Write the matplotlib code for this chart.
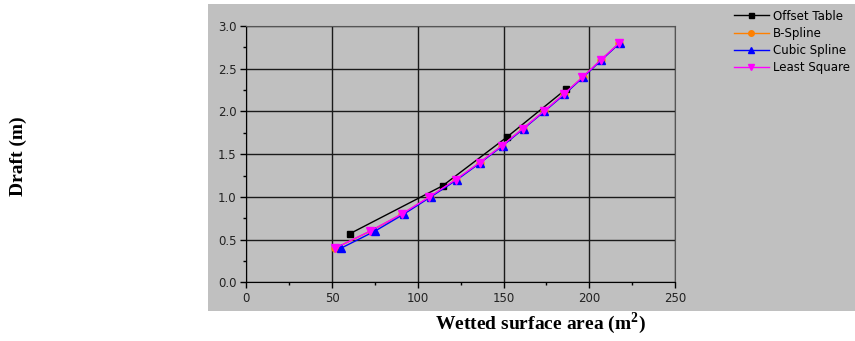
import matplotlib
matplotlib.use('Agg')
import matplotlib.pyplot as plt
from matplotlib.patches import Rectangle
from matplotlib.ticker import MultipleLocator, FormatStrFormatter

plt.rcParams['mathtext.fontset'] = 'custom'
plt.rcParams['mathtext.rm'] = 'Liberation Serif:bold'
plt.rcParams['mathtext.bf'] = 'Liberation Serif:bold'

# Wetted surface area (m^2) against draft (m) for each hull representation
offset_area = [60.5, 114.5, 152.0, 186.4]
offset_draft = [0.57, 1.13, 1.70, 2.26]

spline_draft = [0.4, 0.6, 0.8, 1.0, 1.2, 1.4, 1.6, 1.8, 2.0, 2.2, 2.4, 2.6, 2.8]
bspline_area = [52.0, 72.5, 91.0, 107.0, 122.2, 136.1, 149.2, 161.4, 173.5, 185.1, 196.1, 206.7, 217.5]
cubic_area = [55.3, 75.1, 92.0, 107.6, 122.8, 136.5, 149.6, 161.8, 173.8, 185.5, 196.4, 207.0, 217.8]
lsq_area = [51.8, 72.2, 90.7, 106.8, 122.0, 136.0, 149.1, 161.3, 173.4, 185.0, 196.0, 206.6, 217.4]

BG = '#c0c0c0'
W, H = 855, 341
TICK_FONT = 'DejaVu Sans'

fig = plt.figure(figsize=(W / 100, H / 100), dpi=100)
fig.patches.append(Rectangle((208 / W, 1 - 311 / H), (W - 208) / W, (311 - 4) / H,
                             transform=fig.transFigure, facecolor=BG,
                             edgecolor='none', zorder=-5))

ax = fig.add_axes([246.3 / W, 1 - 282.3 / H, (675 - 246.3) / W, (282.3 - 26) / H])
ax.set_zorder(2)
ax.set_facecolor(BG)

ax.plot(offset_area, offset_draft, color='black', lw=1.0, marker='s', ms=4.5,
        label='Offset Table', zorder=3)
ax.plot(bspline_area, spline_draft, color='#ff8000', lw=1.0, marker='o', ms=5,
        label='B-Spline', zorder=4)
ax.plot(cubic_area, spline_draft, color='#0000ff', lw=1.0, marker='^', ms=5.5,
        label='Cubic Spline', zorder=5)
ax.plot(lsq_area, spline_draft, color='#ff00ff', lw=1.0, marker='v', ms=5.5,
        label='Least Square', zorder=6)

ax.set_xlim(0, 250)
ax.set_ylim(0, 3.0)
ax.xaxis.set_major_locator(MultipleLocator(50))
ax.xaxis.set_minor_locator(MultipleLocator(25))
ax.yaxis.set_major_locator(MultipleLocator(0.5))
ax.yaxis.set_minor_locator(MultipleLocator(0.25))
ax.yaxis.set_major_formatter(FormatStrFormatter('%.1f'))
ax.grid(True, which='major', color='#1a1a1a', lw=1.0)
ax.set_axisbelow(True)

for side in ['top', 'right']:
    ax.spines[side].set_color('#555555')
for side in ['left', 'bottom']:
    ax.spines[side].set_color('black')
ax.tick_params(which='major', direction='out', length=4, width=1, colors='black',
               labelsize=8.5, pad=3)
ax.tick_params(which='minor', direction='out', length=2, width=1, colors='black')
for lab in ax.get_xticklabels() + ax.get_yticklabels():
    lab.set_fontfamily(TICK_FONT)
    lab.set_color('#222222')

leg = fig.legend(loc='upper left', bbox_to_anchor=(723 / W, 1 + 1 / H),
                 frameon=False, prop={'family': TICK_FONT, 'size': 8.5},
                 handlelength=3.0, handletextpad=0.3, labelspacing=0.35,
                 markerscale=0.8)

fig.text(18 / W, 1 - 156 / H, 'Draft (m)', rotation=90, ha='center', va='center',
         fontfamily='Liberation Serif', fontweight='bold', fontsize=14)
fig.text(540 / W, 1 - 323 / H, r'Wetted surface area (m$^{\mathbf{2}}$)', ha='center',
         va='center', fontfamily='Liberation Serif', fontweight='bold', fontsize=14)

fig.savefig('out.png', dpi=100)
